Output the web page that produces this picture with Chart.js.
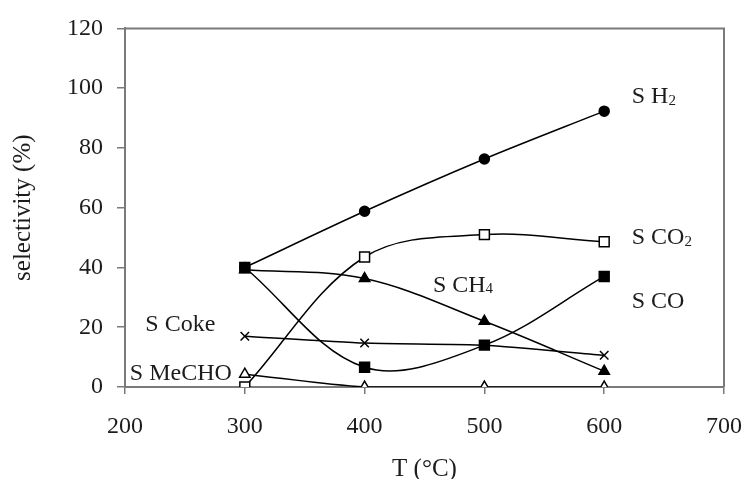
<!DOCTYPE html>
<html>
<head>
<meta charset="utf-8">
<script src="https://cdn.jsdelivr.net/npm/chart.js@4/dist/chart.umd.min.js"></script>
<style>
  html, body { margin: 0; padding: 0; background: #fff; }
  #wrap { width: 753px; height: 479px; }
</style>
</head>
<body>
<div id="wrap"><canvas id="selectivityChart" width="753" height="479"></canvas></div>
<script>
const temperatures = [300, 400, 500, 600];
const sH2 = [40, 58.8, 76.3, 92.3];
const sCO2 = [0, 43.5, 51, 48.6];
const sCH4 = [39.2, 36.3, 22, 5.3];
const sCO = [40, 6.6, 14, 37];
const sCoke = [17, 14.7, 14, 10.6];
const sMeCHO = [4.3, 0, 0, 0];
const xTicks = [200, 300, 400, 500, 600, 700];
const yTicks = [0, 20, 40, 60, 80, 100, 120];
const curveNames = [['S H', '2'], ['S CO', '2'], ['S CO', ''], ['S CH', '4'], ['S Coke', ''], ['S MeCHO', '']];

const textColor = '#1c1c1c';
const axisColor = '#7a7a7a';
const serif = '"Liberation Serif", "Times New Roman", serif';

function toPoints(values) {
    return temperatures.map((t, i) => ({ x: t, y: values[i] }));
}

function series(label, values, style, radius, fill, tension) {
    return {
        label: label,
        data: toPoints(values),
        showLine: true,
        borderColor: '#000',
        borderWidth: 1.5,
        tension: tension,
        pointStyle: style,
        pointRadius: radius,
        pointBackgroundColor: fill,
        pointBorderColor: '#000',
        pointBorderWidth: 1.5
    };
}

// Rahmen oben/rechts
const boxPlugin = {
    id: 'plotBox',
    afterDraw(chart) {
        const { ctx, chartArea: a } = chart;
        ctx.save();
        ctx.strokeStyle = axisColor;
        ctx.lineWidth = 2;
        ctx.beginPath();
        ctx.moveTo(a.left, a.top);
        ctx.lineTo(a.right, a.top);
        ctx.lineTo(a.right, a.bottom);
        ctx.stroke();
        ctx.restore();
    }
};

// Beschriftungen an den Kurven (mit Index)
const labelPlugin = {
    id: 'curveLabels',
    beforeDatasetsDraw(chart) {
        const { ctx, scales: { x, y } } = chart;
        const anchors = [[623, 97], [623, 50], [623, 28.6], [457, 34], [217, 21], [204, 4.6]];
        ctx.save();
        ctx.fillStyle = textColor;
        ctx.textBaseline = 'middle';
        ctx.textAlign = 'left';
        curveNames.forEach((name, i) => {
            const px = x.getPixelForValue(anchors[i][0]);
            const py = y.getPixelForValue(anchors[i][1]);
            ctx.font = '24px ' + serif;
            ctx.fillText(name[0], px, py);
            if (name[1]) {
                const w = ctx.measureText(name[0]).width;
                ctx.font = '15px ' + serif;
                ctx.fillText(name[1], px + w, py + 4);
            }
        });
        ctx.restore();
    }
};

const ctx = document.getElementById('selectivityChart').getContext('2d');
const selectivityChart = new Chart(ctx, {
    type: 'scatter',
    data: {
        datasets: [
            series('S H2', sH2, 'circle', 5, '#000', 0.3),
            series('S CO2', sCO2, 'rect', 7, '#fff', 0.35),
            series('S CH4', sCH4, 'triangle', 6, '#000', 0.35),
            series('S CO', sCO, 'rect', 7, '#000', 0.35),
            series('S Coke', sCoke, 'crossRot', 6, '#000', 0.2),
            series('S MeCHO', sMeCHO, 'triangle', 6, '#fff', 0.3)
        ]
    },
    options: {
        responsive: false,
        animation: false,
        layout: { padding: { top: 22, right: 29, left: 0, bottom: 0 } },
        plugins: {
            legend: { display: false },
            tooltip: { enabled: false }
        },
        scales: {
            x: {
                type: 'linear',
                min: 200,
                max: 700,
                afterBuildTicks: (scale) => { scale.ticks = xTicks.map(v => ({ value: v })); },
                afterFit: (scale) => {
                    scale.height = 92;
                    scale.paddingLeft = 0;
                    scale.paddingRight = 0;
                },
                ticks: { color: textColor, font: { family: serif, size: 24 }, padding: 18, maxRotation: 0 },
                grid: { drawOnChartArea: false, drawTicks: true, tickLength: 7, color: axisColor, lineWidth: 1.5 },
                border: { display: true, color: axisColor, width: 2 },
                title: { display: true, text: 'T (°C)', color: textColor, font: { family: serif, size: 25, lineHeight: 0.8 }, padding: { top: 0, bottom: 0 } }
            },
            y: {
                min: 0,
                max: 120,
                afterBuildTicks: (scale) => { scale.ticks = yTicks.map(v => ({ value: v })); },
                afterFit: (scale) => { scale.width = 125; },
                ticks: { color: textColor, font: { family: serif, size: 24 }, padding: 14 },
                grid: { drawOnChartArea: false, drawTicks: true, tickLength: 8, color: axisColor, lineWidth: 1.5 },
                border: { display: true, color: axisColor, width: 2 },
                title: { display: true, text: 'selectivity (%)', color: textColor, font: { family: serif, size: 25 }, padding: { top: 8, bottom: 0 } }
            }
        }
    },
    plugins: [boxPlugin, labelPlugin]
});
</script>
</body>
</html>
